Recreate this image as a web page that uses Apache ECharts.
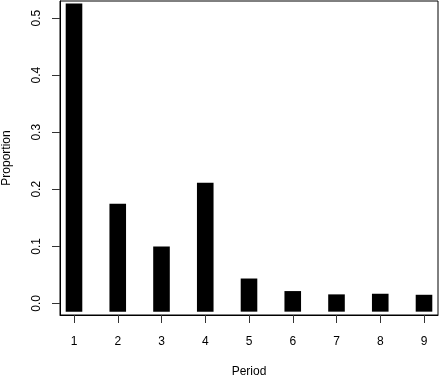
<!DOCTYPE html>
<html>
<head>
<meta charset="utf-8">
<script src="https://cdn.jsdelivr.net/npm/echarts@6/dist/echarts.min.js"></script>
<style>
  html, body { margin: 0; padding: 0; background: #fff; }
  #chart { width: 440px; height: 377px; }
</style>
</head>
<body>
<div id="chart"></div>
<script>
var periods = [1, 2, 3, 4, 5, 6, 7, 8, 9];
var proportions = [0.511, 0.160, 0.085, 0.197, 0.029, 0.007, 0.0012, 0.0023, 0.0005];
var yTicks = [0, 0.1, 0.2, 0.3, 0.4, 0.5];

var chart = echarts.init(document.getElementById('chart'));
var font = 'Liberation Sans, Arial, Helvetica, sans-serif';
var xMin = 0.68, xMax = 9.32;

var option = {
  animation: false,
  backgroundColor: '#fff',
  grid: {
    left: 60, top: 1, width: 378, height: 314,
    outerBoundsMode: 'none', containLabel: false,
    show: true, borderColor: '#000', borderWidth: 1, backgroundColor: 'transparent'
  },
  xAxis: {
    type: 'value',
    min: xMin, max: xMax,
    name: 'Period',
    nameLocation: 'middle',
    nameGap: 51,
    nameMoveOverlap: false,
    nameTextStyle: { fontFamily: font, fontSize: 12, color: '#000' },
    splitLine: { show: false },
    axisLine: { show: true, onZero: false, lineStyle: { color: '#000', width: 1 } },
    axisTick: { show: true, length: 8, customValues: periods, lineStyle: { color: '#333', width: 1 } },
    axisLabel: { customValues: periods, margin: 21, fontFamily: font, fontSize: 12, color: '#000' }
  },
  yAxis: {
    type: 'value',
    min: -0.0204, max: 0.530,
    name: 'Proportion',
    nameLocation: 'middle',
    nameGap: 47,
    nameRotate: 90,
    nameMoveOverlap: false,
    nameTextStyle: { fontFamily: font, fontSize: 12, color: '#000' },
    splitLine: { show: false },
    axisLine: { show: true, onZero: false, lineStyle: { color: '#000', width: 1 } },
    axisTick: { show: true, length: 8, customValues: yTicks, lineStyle: { color: '#333', width: 1 } },
    axisLabel: {
      customValues: yTicks, rotate: 90, margin: 17,
      fontFamily: font, fontSize: 12, color: '#000',
      formatter: function (v) { return v.toFixed(1); }
    }
  },
  series: [{
    type: 'custom',
    clip: false,
    data: periods.map(function (p, i) { return [p, proportions[i]]; }),
    renderItem: function (params, api) {
      var top = api.coord([api.value(0), api.value(1)]);
      var bot = api.coord([api.value(0), 0]);
      var half = 8.3;  // square line end, like lwd big in R
      return {
        type: 'rect',
        shape: { x: top[0] - half, y: top[1] - half, width: half * 2, height: bot[1] - top[1] + half * 2 },
        style: { fill: '#000' }
      };
    }
  }, {
    // y ticks, drawn again so they surely show
    type: 'custom',
    clip: false,
    silent: true,
    data: yTicks.map(function (t) { return [xMin, t]; }),
    renderItem: function (params, api) {
      var p = api.coord([api.value(0), api.value(1)]);
      var y = Math.round(p[1]) + 0.5;
      return {
        type: 'line',
        shape: { x1: p[0] - 8, y1: y, x2: p[0], y2: y },
        style: { stroke: '#333', lineWidth: 1 }
      };
    }
  }]
};
chart.setOption(option);
</script>
</body>
</html>
